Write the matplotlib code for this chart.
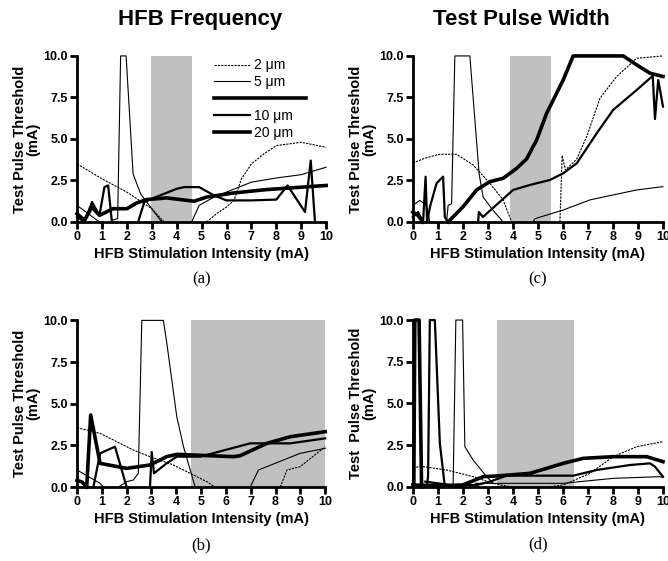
import matplotlib
matplotlib.use('Agg')
import matplotlib.pyplot as plt
from matplotlib.lines import Line2D
from matplotlib.legend_handler import HandlerLine2D

plt.rcParams['font.family'] = ['Liberation Sans', 'DejaVu Sans']

# 每个系列是若干段折线 (x, y)，读自原图
# ---- (a) HFB Frequency
a_2um = [([0, 1, 2, 3, 3.5], [3.5, 2.6, 1.8, 0.8, 0]),
         ([5.2, 5.6, 6.0, 6.3, 6.6, 7.0, 7.5, 8.0, 9.0, 10],
          [0, 0.5, 0.9, 1.3, 2.6, 3.5, 4.1, 4.6, 4.8, 4.5])]
a_5um = [([0, 0.9], [1.0, 0]),
         ([1.4, 1.63, 1.75, 1.97, 2.25, 2.55, 2.95, 3.35, 3.5],
          [0.1, 0.2, 10, 10, 2.9, 1.7, 0.9, 0.1, 0]),
         ([4.6, 4.9, 5.5, 6, 7, 8, 9, 10], [0, 1.0, 1.5, 1.8, 2.4, 2.65, 2.85, 3.3])]
a_10um = [([0, 0.3, 0.6, 0.9, 1.1, 1.25, 1.4], [0.3, 0, 1.2, 0.4, 2.1, 2.2, 0]),
          ([2.45, 2.7, 3.0, 3.5, 4.0, 4.3, 4.9, 5.5, 6.0, 7.0, 8.0, 8.45, 9.15, 9.38, 9.55],
           [0, 1.2, 1.4, 1.7, 2.0, 2.1, 2.1, 1.6, 1.3, 1.3, 1.35, 2.2, 0.6, 3.7, 0])]
a_20um = [([0, 0.3, 0.6, 0.9, 1.45, 2.0, 2.4, 2.8, 3.6, 4.7, 5.2, 6.3, 7.6, 10],
           [0.5, 0.1, 0.9, 0.4, 0.8, 0.8, 1.15, 1.35, 1.45, 1.25, 1.5, 1.75, 1.95, 2.2])]
a_span = (2.95, 4.6)

# ---- (c) Test Pulse Width
c_2um = [([0, 0.5, 1.08, 1.75, 2.41, 3.08, 3.61, 3.95],
          [3.55, 3.85, 4.08, 4.08, 3.43, 2.33, 1.33, 0]),
         ([5.88, 5.97, 6.1, 6.55, 6.95, 7.48, 8.15, 8.95, 10],
          [0, 4.0, 3.13, 3.78, 5.14, 7.45, 8.76, 9.86, 10])]
c_5um = [([0, 0.28, 0.55, 0.68], [1.0, 1.3, 1.0, 0]),
         ([1.35, 1.41, 1.55, 1.68, 2.28, 2.65, 2.81, 3.21, 3.61],
          [0, 1.0, 1.1, 10, 10, 2.9, 1.5, 0.7, 0]),
         ([4.81, 4.88, 6.01, 7.08, 8.01, 8.95, 10], [0, 0.2, 0.72, 1.33, 1.63, 1.93, 2.13])]
c_10um = [([0, 0.21, 0.41, 0.51, 0.57, 0.7, 0.95, 1.21, 1.28, 1.4], [0.3, 0.6, 0, 2.73, 0, 1.0, 2.33, 2.73, 0.3, 0]),
          ([2.61, 2.64, 2.8, 4.01, 4.68, 5.48, 6.01, 6.55, 7.35, 8.01, 8.95, 9.59, 9.68, 9.81, 10],
           [0, 0.6, 0.3, 1.93, 2.23, 2.53, 2.93, 3.53, 5.34, 6.75, 7.95, 8.8, 6.2, 8.55, 6.95])]
c_20um = [([0, 0.2, 0.4], [0.6, 0.4, 0]),
          ([1.41, 2.01, 2.55, 3.08, 3.61, 4.15, 4.55, 4.95, 5.35, 6.01, 6.41, 8.41, 8.95, 9.48, 10],
           [0, 0.92, 1.93, 2.43, 2.63, 3.23, 3.8, 4.94, 6.55, 8.55, 10, 10, 9.46, 8.96, 8.76])]
c_span = (3.89, 5.52)

# ---- (b)
b_2um = [([0, 0.93, 1.6, 2.27, 2.94, 3.88, 4.56, 5.23, 5.56],
          [3.56, 3.22, 2.72, 2.22, 1.82, 1.32, 0.82, 0.32, 0]),
         ([8.19, 8.46, 8.72, 8.99, 10], [0, 1.02, 1.12, 1.22, 2.42])]
b_5um = [([0, 0.93, 1.06], [1.02, 0.22, 0]),
         ([1.73, 2.0, 2.27, 2.47, 2.61, 3.48, 3.62, 4.02, 4.29, 4.76],
          [0.06, 0.32, 0.42, 0.82, 10, 10, 8.62, 4.22, 2.42, 0]),
         ([6.98, 7.31, 8.99, 10], [0, 1.02, 2.02, 2.32])]
b_10um = [([0.66, 0.93, 1.53, 2.0], [0, 2.02, 2.42, 0]),
          ([2.94, 3.01, 3.1, 3.61, 4.02, 4.96, 6.98, 7.65, 8.6, 10],
           [0, 2.1, 0.82, 1.42, 1.82, 1.82, 2.62, 2.62, 2.62, 2.92])]
b_20um = [([0, 0.2, 0.39], [0.4, 0.3, 0]),
          ([0.39, 0.55, 0.93, 2.0, 2.94, 3.61, 4.02, 6.3, 6.58, 7.65, 8.6, 10],
           [0, 4.32, 1.42, 1.12, 1.32, 1.82, 1.96, 1.82, 1.88, 2.62, 3.02, 3.32])]
b_span = (4.6, 10)

# ---- (d)
d_2um = [([0, 0.41, 1.35, 2.41, 3.21, 3.88], [1.16, 1.2, 1.0, 0.6, 0.2, 0]),
         ([5.5, 6.01, 7.08, 8.01, 8.95, 10], [0, 0.1, 0.8, 1.8, 2.4, 2.7])]
d_5um = [([1.61, 1.72, 1.99, 2.08, 2.41, 2.95, 3.21], [0, 10, 10, 2.4, 1.6, 0.6, 0.2]),
         ([2.5, 4.95, 6.0, 8.01, 9.88, 10], [0.2, 0.2, 0.2, 0.5, 0.6, 0.55])]
d_10um = [([0.55, 0.61, 0.68, 0.88, 1.08, 1.28], [0, 0.6, 10, 10, 2.6, 0]),
          ([0.5, 1.5, 2.55, 3.08, 3.75, 6.41, 7.35, 8.68, 9.48, 9.68, 10],
           [0.3, 0.1, 0.1, 0.3, 0.66, 0.66, 1.0, 1.3, 1.4, 1.2, 0.6])]
d_20um = [([0.04, 0.08, 0.25, 0.35], [0, 10, 10, 0]),
          ([0, 1.0, 2.0, 2.81, 3.35, 4.68, 5.35, 6.01, 6.81, 8.01, 9.35, 10],
           [0.1, 0.05, 0.1, 0.6, 0.64, 0.8, 1.1, 1.4, 1.7, 1.8, 1.8, 1.5])]
d_span = (3.35, 6.45)

styles = {'2um': dict(color='k', lw=0.8, ls=(0, (2, 1))),
          '5um': dict(color='k', lw=0.8),
          '10um': dict(color='k', lw=1.6),
          '20um': dict(color='k', lw=2.6)}

fig = plt.figure(figsize=(6.68, 5.61), dpi=100)


def draw(rect, series, span, ylab, letter):
    ax = fig.add_axes(rect)
    ax.axvspan(span[0], span[1], color='#c0c0c0', lw=0, zorder=0)
    for key, segs in zip(['2um', '5um', '10um', '20um'], series):
        for x, y in segs:
            ax.plot(x, y, **styles[key], clip_on=False, zorder=3)
    ax.set_xlim(0, 10)
    ax.set_ylim(0, 10)
    ax.set_xticks(range(11))
    ax.set_yticks([0, 2.5, 5, 7.5, 10])
    ax.set_yticklabels(['0.0', '2.5', '5.0', '7.5', '10.0'])
    for s in ['top', 'right']:
        ax.spines[s].set_visible(False)
    for s in ['left', 'bottom']:
        ax.spines[s].set_linewidth(2)
    ax.tick_params(width=2, length=5, labelsize=9, pad=1.5)
    for t in ax.get_xticklabels() + ax.get_yticklabels():
        t.set_fontweight('bold')
    ax.set_xlabel('HFB Stimulation Intensity (mA)', fontsize=10.5, fontweight='bold', labelpad=3)
    ax.set_ylabel(ylab, fontsize=10.5, fontweight='bold', labelpad=2, linespacing=1.0)
    ax.text(0.5, -0.3, letter, transform=ax.transAxes, ha='center', va='top',
            fontsize=12, family='Liberation Serif')
    return ax


ax_a = draw([0.1153, 0.6043, 0.373, 0.296], [a_2um, a_5um, a_10um, a_20um], a_span,
            'Test Pulse Threshold\n(mA)', '(a)')
ax_c = draw([0.618, 0.6043, 0.3745, 0.296], [c_2um, c_5um, c_10um, c_20um], c_span,
            'Test Pulse Threshold\n(mA)', '(c)')
ax_b = draw([0.1153, 0.1319, 0.3715, 0.297], [b_2um, b_5um, b_10um, b_20um], b_span,
            'Test Pulse Threshold\n(mA)', '(b)')
ax_d = draw([0.618, 0.1325, 0.3745, 0.297], [d_2um, d_5um, d_10um, d_20um], d_span,
            'Test  Pulse Threshold\n(mA)', '(d)')


class WideHandler(HandlerLine2D):
    # 第三个图例项的粗线更长
    def create_artists(self, legend, orig_handle, xdescent, ydescent, width, height, fontsize, trans):
        return super().create_artists(legend, orig_handle, xdescent, ydescent, width * 2.55,
                                      height, fontsize, trans)


# 图例
handles = [Line2D([], [], **styles['2um']), Line2D([], [], **styles['5um']),
           Line2D([], [], color='k', lw=2.6), Line2D([], [], **styles['10um']),
           Line2D([], [], **styles['20um'])]
labels = ['2 μm', '5 μm', '', '10 μm', '20 μm']
ax_a.legend(handles, labels, loc='upper left', bbox_to_anchor=(0.5, 1.06), frameon=False,
            fontsize=10, handlelength=2.6, handletextpad=0.3, labelspacing=0.2,
            handler_map={handles[2]: WideHandler()})

fig.text(0.3, 0.965, 'HFB Frequency', ha='center', va='center', fontsize=16, fontweight='bold')
fig.text(0.78, 0.965, 'Test Pulse Width', ha='center', va='center', fontsize=16, fontweight='bold')

fig.savefig('out.png', dpi=100)
